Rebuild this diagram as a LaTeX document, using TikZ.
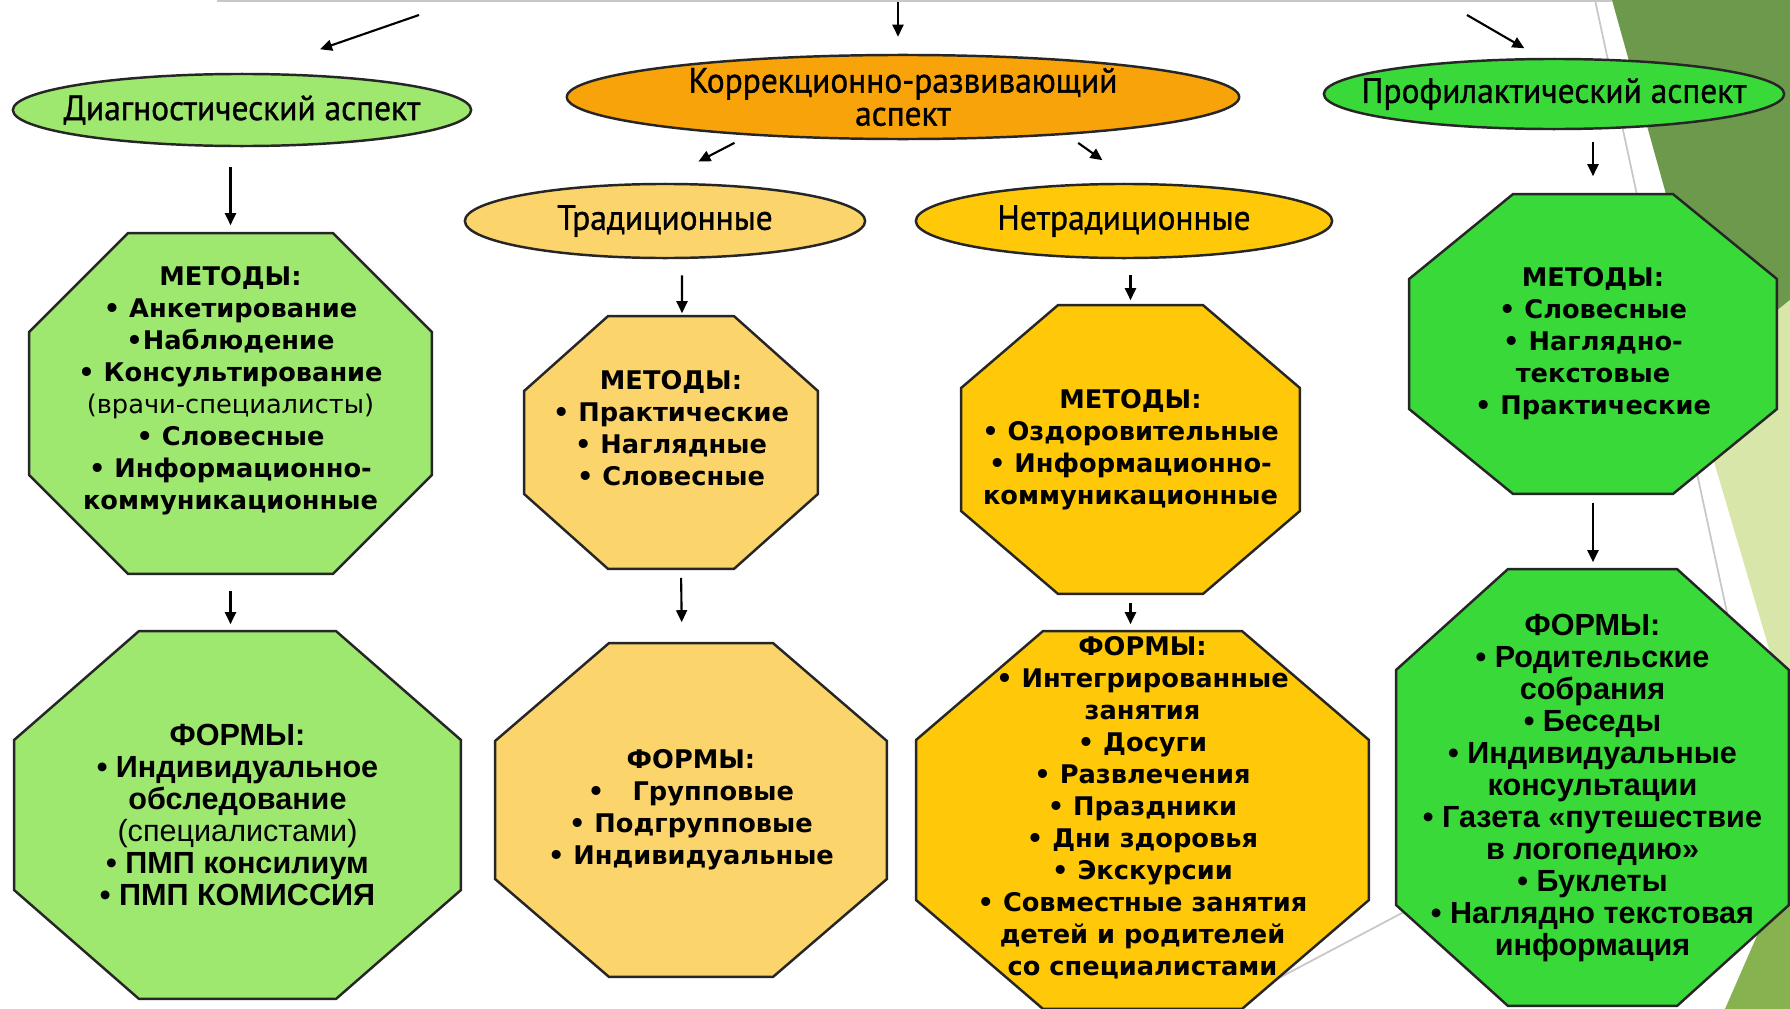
\documentclass[tikz,border=0pt]{standalone}
\usepackage{fontspec}
\usepackage{tikz}
\usetikzlibrary{calc,arrows.meta,shapes.geometric}
\newfontfamily\titlefont[FakeStretch=0.95,FakeBold=1]{PT Sans}
\newfontfamily\boxfont{DejaVu Sans}
\newfontfamily\arialfont{Liberation Sans}
\definecolor{edge}{HTML}{262626}
\definecolor{diag}{HTML}{9FE870}
\definecolor{corr}{HTML}{F9A30B}
\definecolor{trad}{HTML}{FCD46C}
\definecolor{nontrad}{HTML}{FFC90A}
\definecolor{prof}{HTML}{3AD93A}
\definecolor{decodark}{HTML}{6D994C}
\definecolor{decomid}{HTML}{86B24F}
\definecolor{decopale}{HTML}{D8E6AA}
\definecolor{rule}{HTML}{C8C8C8}
\tikzset{
  aspect/.style={ellipse, draw=edge, line width=0.7pt, inner xsep=-0.6cm, inner ysep=-0.15cm,
    align=center, font=\titlefont\fontsize{10}{9.4}\selectfont},
  oct/.style n args={5}{rectangle, inner sep=0pt, minimum width=#1, minimum height=#2, align=center,
    path picture={
      \path[fill=#5, draw=edge, line width=0.7pt]
        let \p1=(path picture bounding box.south west), \p2=(path picture bounding box.north east) in
        ({\x1+#3},{\y2-0.35pt}) -- ({\x2-#3},{\y2-0.35pt}) -- ({\x2-0.35pt},{\y2-#4}) -- ({\x2-0.35pt},{\y1+#4})
        -- ({\x2-#3},{\y1+0.35pt}) -- ({\x1+#3},{\y1+0.35pt}) -- ({\x1+0.35pt},{\y1+#4}) -- ({\x1+0.35pt},{\y2-#4}) -- cycle;
    }},
  meth/.style={font=\boxfont\bfseries\fontsize{7.3}{9.1}\selectfont},
  form/.style={font=\arialfont\bfseries\fontsize{8.7}{9.1}\selectfont},
  arr/.style={draw=black, line width=0.6pt, -{Triangle[length=0.12cm,width=0.11cm]}},
}

\begin{document}
\begin{tikzpicture}[x=0.01cm, y=-0.01cm]
  \useasboundingbox (0,0) rectangle (1790,1009);
  \fill[white] (0,0) rectangle (1790,1009);
  % slide decoration
  \fill[decodark] (1612,0) -- (1790,0) -- (1790,640) -- cycle;
  \fill[decopale] (1690,380) -- (1790,300) -- (1790,720) -- cycle;
  \fill[decomid] (1725,1009) -- (1790,860) -- (1790,1009) -- cycle;
  \draw[rule, line width=0.5pt] (217,1) -- (1612,1);
  \draw[rule, line width=0.5pt] (1595,0) -- (1790,905);
  \draw[rule, line width=0.5pt] (1260,988) -- (1790,708);

  % aspects
  \node[aspect, fill=diag, minimum width=4.58cm, minimum height=0.72cm] (diag) at (242,110) {Диагностический аспект};
  \node[aspect, fill=corr, minimum width=6.72cm, minimum height=0.84cm] (corr) at (903,97) {Коррекционно-развивающий\\аспект};
  \node[aspect, fill=prof, minimum width=4.60cm, minimum height=0.70cm] (prof) at (1554,94) {Профилактический аспект};
  \node[aspect, fill=trad, minimum width=4.00cm, minimum height=0.74cm] (trad) at (665,221) {Традиционные};
  \node[aspect, fill=nontrad, minimum width=4.16cm, minimum height=0.74cm] (nontrad) at (1124,221) {Нетрадиционные};

  % methods
  \node[oct={4.05cm}{3.43cm}{1.00cm}{1.00cm}{diag}, meth] (diagMet) at (230.5,403.5)
    {МЕТОДЫ:\\• Анкетирование\\•Наблюдение\\• Консультирование\\{\mdseries(врачи-специалисты)}\\• Словесные\\• Информационно-\\коммуникационные\\{}};
  \node[oct={2.96cm}{2.55cm}{0.85cm}{0.76cm}{trad}, meth] (tradMet) at (671,442.5)
    {МЕТОДЫ:\\• Практические\\• Наглядные\\• Словесные\\[-1.1pt]{}};
  \node[oct={3.41cm}{2.91cm}{0.98cm}{0.84cm}{nontrad}, meth] (nonMet) at (1130.5,449.5)
    {МЕТОДЫ:\\• Оздоровительные\\• Информационно-\\коммуникационные};
  \node[oct={3.70cm}{3.02cm}{1.05cm}{0.86cm}{prof}, meth] (profMet) at (1593,344)
    {МЕТОДЫ:\\• Словесные\\• Наглядно-\\текстовые\\• Практические};

  % forms
  \node[oct={4.49cm}{3.70cm}{1.26cm}{1.10cm}{diag}, form] (diagForm) at (237.5,815)
    {ФОРМЫ:\\• Индивидуальное\\обследование\\{\mdseries(специалистами)}\\• ПМП консилиум\\• ПМП КОМИССИЯ};
  \node[oct={3.94cm}{3.36cm}{1.15cm}{0.99cm}{trad}, meth] (tradForm) at (691,810)
    {ФОРМЫ:\\•\hspace{1.1em}Групповые\\• Подгрупповые\\• Индивидуальные};
  \node[oct={4.55cm}{3.80cm}{1.28cm}{1.10cm}{nontrad}, meth] (nonForm) at (1142.5,820)
    {ФОРМЫ:\\• Интегрированные\\занятия\\• Досуги\\• Развлечения\\• Праздники\\• Дни здоровья\\• Экскурсии\\• Совместные занятия\\детей и родителей\\со специалистами\\[-1.1pt]{}};
  \node[oct={3.95cm}{4.39cm}{1.13cm}{1.02cm}{prof}, form] (profForm) at (1592.5,787.5)
    {ФОРМЫ:\\• Родительские\\собрания\\• Беседы\\• Индивидуальные\\консультации\\• Газета «путешествие\\в логопедию»\\• Буклеты\\• Наглядно текстовая\\информация};

  % arrows
  \coordinate (srcL) at (419,15);
  \coordinate (srcC) at (898,2);
  \coordinate (srcR) at (1467,15);
  \draw[arr, shorten >=0.72cm] (srcL) -- (diag.75);
  \draw[arr, shorten >=0.17cm] (srcC) -- (srcC |- corr.north);
  \draw[arr, shorten >=0.19cm] (srcR) -- (prof.110);
  \draw[arr, shorten <=0.16cm, shorten >=0.46cm] (corr.194) -- (trad.101);
  \draw[arr, shorten <=0.14cm, shorten >=0.39cm] (corr.347) -- (nontrad.75);
  \draw[arr, shorten <=0.20cm, shorten >=0.06cm] (diagMet.north |- diag.south) -- (diagMet.north);
  \draw[arr, shorten <=0.16cm, shorten >=0.01cm] ([xshift=0.17cm]trad.south) -- ([xshift=0.11cm]tradMet.north);
  \draw[arr, shorten <=0.16cm, shorten >=0.03cm] (nonMet.north |- nontrad.south) -- (nonMet.north);
  \draw[arr, shorten <=0.12cm, shorten >=0.16cm] (profMet.north |- prof.south) -- (profMet.north);
  \draw[arr, shorten <=0.07cm, shorten >=0.19cm] ([xshift=0.10cm]tradMet.south) -- ([xshift=-0.09cm]tradForm.north);
  \foreach \a/\b/\s in {diagMet/diagForm/0.15cm, nonMet/nonForm/0.07cm, profMet/profForm/0.07cm}
    \draw[arr, shorten <=\s, shorten >=0.05cm] (\a.south) -- (\a.south |- \b.north);
\end{tikzpicture}
\end{document}
